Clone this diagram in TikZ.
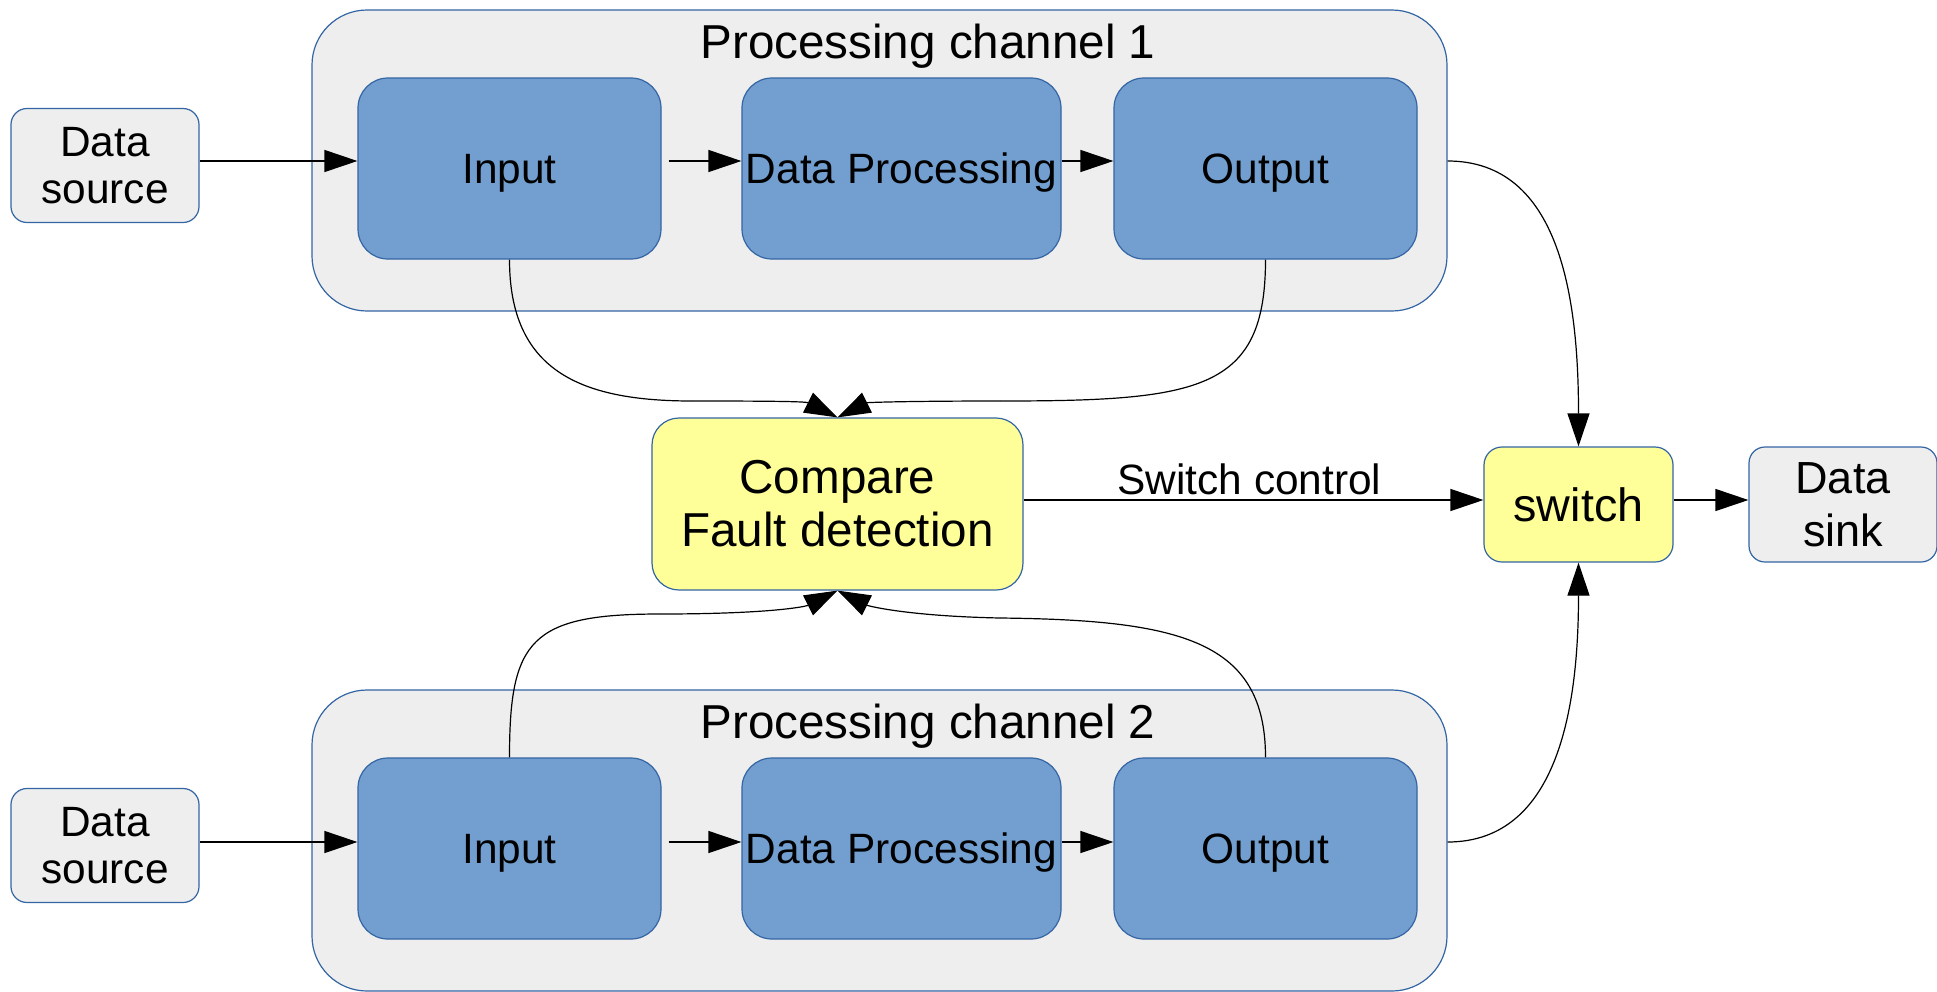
\documentclass[tikz,border=0pt]{standalone}
\usepackage{fontspec}
\setmainfont{Liberation Sans}
\usetikzlibrary{arrows.meta}
\definecolor{panelgray}{HTML}{EEEEEE}
\definecolor{blockblue}{HTML}{729FCF}
\definecolor{edgeblue}{HTML}{3465A4}
\definecolor{noteyellow}{HTML}{FFFF99}
\begin{document}
\begin{tikzpicture}[x=1pt,y=-1pt, line width=1.2pt,
  channel/.style={draw=edgeblue, fill=panelgray, rounded corners=55pt,
    minimum width=1135pt, minimum height=301pt, inner sep=0pt},
  chtitle/.style={inner sep=0pt, text height=34.1pt, text depth=0pt,
    font=\fontsize{47.6}{53}\selectfont},
  stage/.style={draw=edgeblue, fill=blockblue, rounded corners=30pt,
    minimum height=181pt, inner sep=0pt, text height=30.4pt, text depth=0pt,
    font=\fontsize{42.4}{47}\selectfont},
  terminal/.style={draw=edgeblue, fill=panelgray, rounded corners=16pt,
    minimum width=188pt, minimum height=114pt, inner sep=0pt, align=center},
  logic/.style={draw=edgeblue, fill=noteyellow, inner sep=0pt, align=center},
  link/.style={-{Triangle[length=33pt,width=22pt]}},
  lbl/.style={text height=30.4pt, text depth=0pt, font=\fontsize{42.4}{47}\selectfont}
]
\useasboundingbox (0,0) rectangle (1937,991);

% ---- channel containers ----
\node[channel] (ch1) at (879.5,160.5) {};
\node[channel] (ch2) at (879.5,840.5) {};
\node[chtitle] (t1) at (928,41) {Processing channel 1};
\node[chtitle] (t2) at (928,721) {Processing channel 2};

% ---- stages of channel 1 ----
\node[stage, minimum width=303pt] (in1)  at (509.5,168.5) {Input};
\node[stage, minimum width=319pt] (dp1)  at (901.5,168.5) {Data Processing};
\node[stage, minimum width=303pt] (out1) at (1265.5,168.5) {Output};

% ---- stages of channel 2 ----
\node[stage, minimum width=303pt] (in2)  at (509.5,848.5) {Input};
\node[stage, minimum width=319pt] (dp2)  at (901.5,848.5) {Data Processing};
\node[stage, minimum width=303pt] (out2) at (1265.5,848.5) {Output};

% ---- sources, comparator, switch, sink ----
\node[terminal, font=\fontsize{42.4}{47}\selectfont] (src1) at (105,165.5) {Data\\source};
\node[terminal, font=\fontsize{42.4}{47}\selectfont] (src2) at (105,845.5) {Data\\source};
\node[logic, rounded corners=27pt, minimum width=371pt, minimum height=172pt,
      font=\fontsize{47.6}{53}\selectfont] (cmp) at (837.5,504) {Compare\\Fault detection};
\node[logic, rounded corners=18pt, minimum width=189pt, minimum height=115pt,
      font=\fontsize{46.7}{52}\selectfont] (sw) at (1578.5,504.5) {switch};
\node[terminal, minimum height=115pt, font=\fontsize{45}{53}\selectfont] (sink) at (1843,504.5) {Data\\sink};

% ---- data flow inside the channels ----
\draw[link] ([yshift=4.5pt]src1.east) -- ([yshift=7.5pt]in1.west);
\draw[link] ([xshift=7pt,yshift=7.5pt]in1.east) -- ([yshift=7.5pt]dp1.west);
\draw[link] ([yshift=7.5pt]dp1.east) -- ([yshift=7.5pt]out1.west);
\draw[link] ([yshift=3.5pt]src2.east) -- ([yshift=6.5pt]in2.west);
\draw[link] ([xshift=7pt,yshift=6.5pt]in2.east) -- ([yshift=6.5pt]dp2.west);
\draw[link] ([yshift=6.5pt]dp2.east) -- ([yshift=6.5pt]out2.west);

% ---- channel outputs into the switch ----
\coordinate (o1) at ([yshift=7.5pt]out1.east);
\coordinate (o2) at ([yshift=6.5pt]out2.east);
\draw[link] (o1 -| ch1.east) .. controls +(113,0) and +(0,-147) .. (sw.north);
\draw[link] (o2 -| ch2.east) .. controls +(113,0) and +(0,138) .. (sw.south);

% ---- taps into the comparator ----
\coordinate (w1) at (692,401);
\coordinate (w2) at (1000,401);
\coordinate (w3) at (660,614);
\coordinate (w4) at (1000,618);
\draw (in1.south) .. controls +(0,111) and +(-112,0) .. (w1);
\draw[link] (w1) .. controls +(75,0) and +(-32,-16) .. (cmp.north);
\draw (out1.south) .. controls +(0,131) and +(200,0) .. (w2);
\draw[link] (w2) .. controls +(-90,0) and +(30,-15) .. (cmp.north);
\draw (in2.north) .. controls +(0,-117) and +(-130,0) .. (w3);
\draw[link] (w3) .. controls +(110,0) and +(-32,16) .. (cmp.south);
\draw (out2.north) .. controls +(0,-117) and +(180,2) .. (w4);
\draw[link] (w4) .. controls +(-95,-2) and +(30,15) .. (cmp.south);

% ---- control and output path ----
\draw[link] ([yshift=4pt]cmp.east) -- node[lbl, above, xshift=-4pt, inner sep=5pt] {Switch control} ([yshift=4.5pt]sw.west);
\draw[link] ([yshift=4.5pt]sw.east) -- ([yshift=4.5pt]sink.west);
\end{tikzpicture}
\end{document}
